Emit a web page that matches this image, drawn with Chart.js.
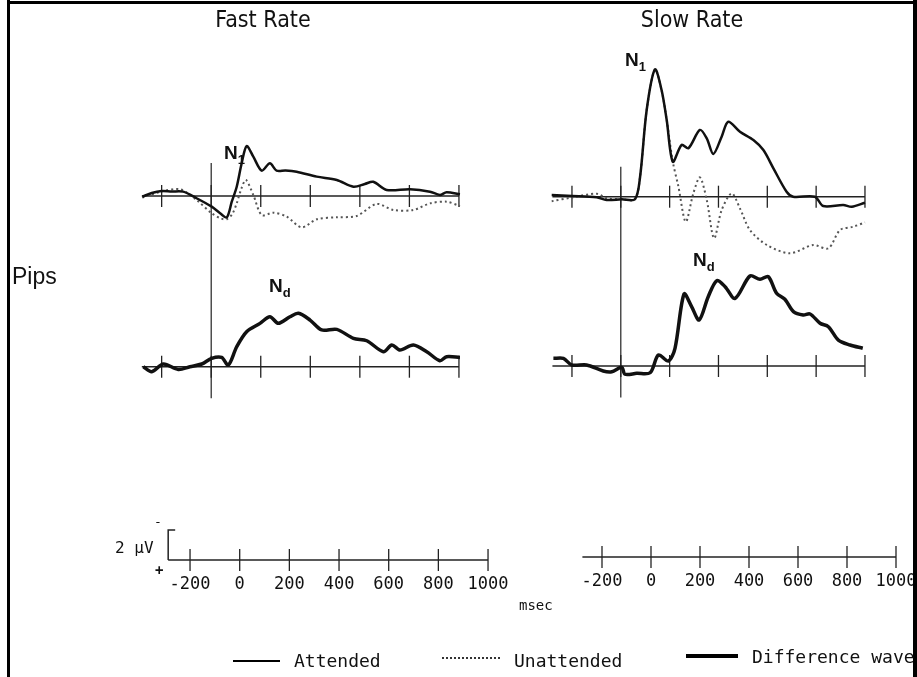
<!DOCTYPE html>
<html>
<head>
<meta charset="utf-8">
<script src="https://cdn.jsdelivr.net/npm/chart.js@4.4.0/dist/chart.umd.min.js"></script>
<style>
  html, body { margin: 0; padding: 0; background: #fff; }
  #wrap { position: relative; width: 917px; height: 677px; overflow: hidden; background: #fff; }
  #c { position: absolute; left: 0; top: 0; }
  .t { position: absolute; color: #111; white-space: nowrap; line-height: 1; }
  .title { font: 23px "Liberation Sans Narrow", "DejaVu Sans Condensed", sans-serif; transform: translate(-50%, -50%); }
  .side { font: 23px "Liberation Sans", sans-serif; transform: translateY(-50%); }
  .n { font: bold 19px "Liberation Sans", sans-serif; transform: translateY(-50%); }
  .n sub { font-size: 13px; vertical-align: -5px; }
  .leg { font: 18px "DejaVu Sans Mono", monospace; transform: translateY(-50%); }
  .small { font: 16px "DejaVu Sans Mono", monospace; transform: translateY(-50%); }
  .bar { position: absolute; background: #000; }
</style>
</head>
<body>
<div id="wrap">
  <canvas id="c" width="917" height="677"></canvas>

  <div class="bar" style="left:7px;top:0;width:3px;height:677px"></div>
  <div class="bar" style="left:7px;top:1px;width:910px;height:3px"></div>
  <div class="bar" style="left:913px;top:0;width:4px;height:677px"></div>

  <div class="t title" style="left:263px;top:19px">Fast Rate</div>
  <div class="t title" style="left:692px;top:19px">Slow Rate</div>
  <div class="t side" style="left:12px;top:276px">Pips</div>

  <div class="t n" style="left:224px;top:154px">N<sub>1</sub></div>
  <div class="t n" style="left:269px;top:287px">N<sub>d</sub></div>
  <div class="t n" style="left:625px;top:61px">N<sub>1</sub></div>
  <div class="t n" style="left:693px;top:261px">N<sub>d</sub></div>

  <div class="t small" style="left:115px;top:547px">2 μV</div>
  <div class="t small" style="left:154px;top:521px;font-size:13px">-</div>
  <div class="t small" style="left:155px;top:570px;font-size:14px;font-weight:bold">+</div>
  <div class="t small" style="left:519px;top:605px;font-size:14px">msec</div>

  <div class="bar" style="left:233px;top:660px;width:47px;height:2px"></div>
  <div class="t leg" style="left:294px;top:660px">Attended</div>
  <div style="position:absolute;left:442px;top:657px;width:58px;border-top:2px dotted #333"></div>
  <div class="t leg" style="left:514px;top:660px">Unattended</div>
  <div class="bar" style="left:686px;top:654px;width:52px;height:4px"></div>
  <div class="t leg" style="left:752px;top:656px">Difference wave</div>
</div>

<script>
// time (ms) and amplitude (µV, negative = up)
const fastAttended = [[-278,0.05],[-240,-0.2],[-200,-0.33],[-160,-0.3],[-113,-0.29],[-59,0.15],[2,0.71],[36,1.15],[63,1.42],[83,0.38],[103,-0.62],[123,-2.18],[143,-3.33],[170,-2.62],[204,-1.69],[237,-2.18],[264,-1.69],[300,-1.7],[345,-1.62],[426,-1.29],[507,-1.07],[574,-0.62],[620,-0.8],[654,-0.95],[708,-0.4],[802,-0.45],[883,-0.29],[923,-0.07],[950,-0.25],[1004,-0.11]];
const fastUnattended = [[-278,0.1],[-200,-0.3],[-126,-0.45],[-59,0.27],[2,1.15],[40,1.5],[63,1.55],[85,1.2],[103,0.49],[122,-0.5],[140,-1.07],[170,-0.07],[204,1.27],[251,1.11],[305,1.38],[365,2.09],[426,1.55],[507,1.42],[587,1.33],[668,0.53],[735,0.93],[816,0.93],[883,0.49],[950,0.38],[1004,0.67]];
const fastDifference = [[-274,0],[-240,0.33],[-193,-0.18],[-133,0.18],[-86,0],[-38,-0.18],[2,-0.56],[42,-0.62],[69,-0.11],[103,-1.33],[143,-2.33],[197,-2.89],[237,-3.33],[271,-2.89],[318,-3.33],[352,-3.56],[399,-3.11],[446,-2.45],[507,-2.49],[574,-1.89],[628,-1.73],[695,-1.0],[729,-1.45],[762,-1.11],[816,-1.45],[870,-1.0],[923,-0.4],[950,-0.67],[1004,-0.62]];

const slowAttended = [[-283,-0.11],[-199,-0.05],[-99,0.04],[-58,0.22],[4,0.17],[58,0.17],[79,-1.33],[106,-5.78],[140,-8.49],[167,-7.11],[188,-5.11],[213,-2.33],[249,-3.45],[277,-3.23],[324,-4.45],[352,-3.89],[379,-2.85],[413,-4.0],[440,-5.0],[488,-4.33],[543,-3.78],[584,-3.11],[625,-1.89],[679,-0.33],[706,0],[795,0],[829,0.62],[911,0.55],[946,0.67],[1000,0.4]];
const slowUnattended = [[-283,0.3],[-199,0.05],[-99,-0.2],[-58,0.1],[4,0.17],[58,0.17],[79,-1.33],[106,-5.78],[140,-8.49],[167,-7.11],[188,-5.11],[213,-2.33],[236,-0.67],[266,1.67],[297,-0.22],[324,-1.29],[352,0.22],[382,2.77],[413,0.89],[454,-0.22],[488,0.78],[529,2.22],[598,3.22],[693,3.77],[788,3.22],[850,3.44],[898,2.22],[952,2.0],[1000,1.71]];
const slowDifference = [[-276,-0.51],[-235,-0.51],[-201,-0.07],[-140,-0.07],[-72,0.33],[-37,0.38],[4,0.09],[17,0.55],[65,0.49],[120,0.45],[154,-0.73],[195,-0.33],[222,-1.18],[259,-4.8],[290,-3.96],[321,-3.07],[358,-4.62],[393,-5.69],[427,-5.29],[468,-4.51],[529,-6.0],[570,-5.78],[604,-5.96],[638,-4.85],[672,-4.45],[707,-3.62],[747,-3.4],[775,-3.47],[816,-2.85],[850,-2.62],[891,-1.73],[939,-1.4],[991,-1.18]];

const tickMs = [-200, 0, 200, 400, 600, 800, 1000];
const tickLabels = ['-200', '0', '200', '400', '600', '800', '1000'];
const calibUv = 2;

const W = 917, H = 677;

// linear scale spanning the whole canvas: value v0 sits at pixel px0, ppu pixels per unit
function span(px0, v0, ppu, total) {
  const min = v0 - px0 / ppu;
  return { min: min, max: min + total / ppu };
}
function xs(px0, ppu) { return Object.assign({ type: 'linear', display: false, axis: 'x' }, span(px0, 0, ppu, W)); }
function ys(px0) { return Object.assign({ type: 'linear', display: false, axis: 'y', reverse: true }, span(px0, 0, 15, H)); }

function wave(data, xId, yId, style) {
  return Object.assign({
    data: data.map(p => ({ x: p[0], y: p[1] })),
    xAxisID: xId, yAxisID: yId,
    borderColor: '#111', borderWidth: 2.5,
    pointRadius: 0, tension: 0.3, fill: false
  }, style);
}
const solid = { borderWidth: 2.5 };
const dotted = { borderWidth: 2, borderColor: '#555', borderDash: [2, 3] };
const thick = { borderWidth: 3.5 };

const frame = {
  id: 'frame',
  beforeDatasetsDraw(chart) {
    const ctx = chart.ctx, s = chart.scales;
    ctx.save();
    ctx.strokeStyle = '#222';

    function axis(xId, yId, from, ticks) {
      const x = s[xId], y = s[yId], y0 = y.getPixelForValue(0);
      ctx.lineWidth = 1.5;
      ctx.beginPath();
      ctx.moveTo(x.getPixelForValue(from), y0);
      ctx.lineTo(x.getPixelForValue(1000), y0);
      ctx.stroke();
      ctx.lineWidth = 1.3;
      ticks.forEach(t => {
        const px = x.getPixelForValue(t);
        ctx.beginPath();
        ctx.moveTo(px, y0 - 11);
        ctx.lineTo(px, y0 + 11);
        ctx.stroke();
      });
    }
    axis('xF', 'yFT', -280, tickMs);
    axis('xF', 'yFB', -280, tickMs);
    axis('xS', 'yST', -280, tickMs);
    axis('xS', 'ySB', -280, tickMs);

    // stimulus onset lines
    ctx.lineWidth = 1.2;
    ctx.beginPath();
    ctx.moveTo(s.xF.getPixelForValue(0), s.yFT.getPixelForValue(-2.2));
    ctx.lineTo(s.xF.getPixelForValue(0), s.yFB.getPixelForValue(2.1));
    ctx.moveTo(s.xS.getPixelForValue(0), s.yST.getPixelForValue(-2.0));
    ctx.lineTo(s.xS.getPixelForValue(0), s.ySB.getPixelForValue(2.1));
    ctx.stroke();

    // calibration axes
    axis('xFC', 'yFC', -288, tickMs);
    axis('xSC', 'ySC', -280, tickMs);
    const bx = s.xFC.getPixelForValue(-288);
    ctx.lineWidth = 1.5;
    ctx.beginPath();
    ctx.moveTo(bx, s.yFC.getPixelForValue(0));
    ctx.lineTo(bx, s.yFC.getPixelForValue(-calibUv));
    ctx.lineTo(bx + 7, s.yFC.getPixelForValue(-calibUv));
    ctx.stroke();

    ctx.fillStyle = '#111';
    ctx.font = '17px "DejaVu Sans Mono", monospace';
    ctx.textAlign = 'center';
    ctx.textBaseline = 'middle';
    tickMs.forEach((t, i) => {
      ctx.fillText(tickLabels[i], s.xFC.getPixelForValue(t), s.yFC.getPixelForValue(0) + 25);
      ctx.fillText(tickLabels[i], s.xSC.getPixelForValue(t), s.ySC.getPixelForValue(0) + 25);
    });
    ctx.restore();
  }
};

new Chart(document.getElementById('c').getContext('2d'), {
  type: 'line',
  data: {
    datasets: [
      wave(fastAttended, 'xF', 'yFT', solid),
      wave(fastUnattended, 'xF', 'yFT', dotted),
      wave(fastDifference, 'xF', 'yFB', thick),
      wave(slowAttended, 'xS', 'yST', solid),
      wave(slowUnattended, 'xS', 'yST', dotted),
      wave(slowDifference, 'xS', 'ySB', thick)
    ]
  },
  options: {
    responsive: false,
    animation: false,
    layout: { padding: 0 },
    plugins: { legend: { display: false }, tooltip: { enabled: false }, title: { display: false } },
    scales: {
      xF: xs(211.2, 0.24775),
      xS: xs(620.8, 0.24417),
      xFC: xs(239.7, 0.24833),
      xSC: xs(651, 0.245),
      yFT: ys(196),
      yFB: ys(366.7),
      yST: ys(196.7),
      ySB: ys(366),
      yFC: ys(560),
      ySC: ys(557)
    }
  },
  plugins: [frame]
});
</script>
</body>
</html>
